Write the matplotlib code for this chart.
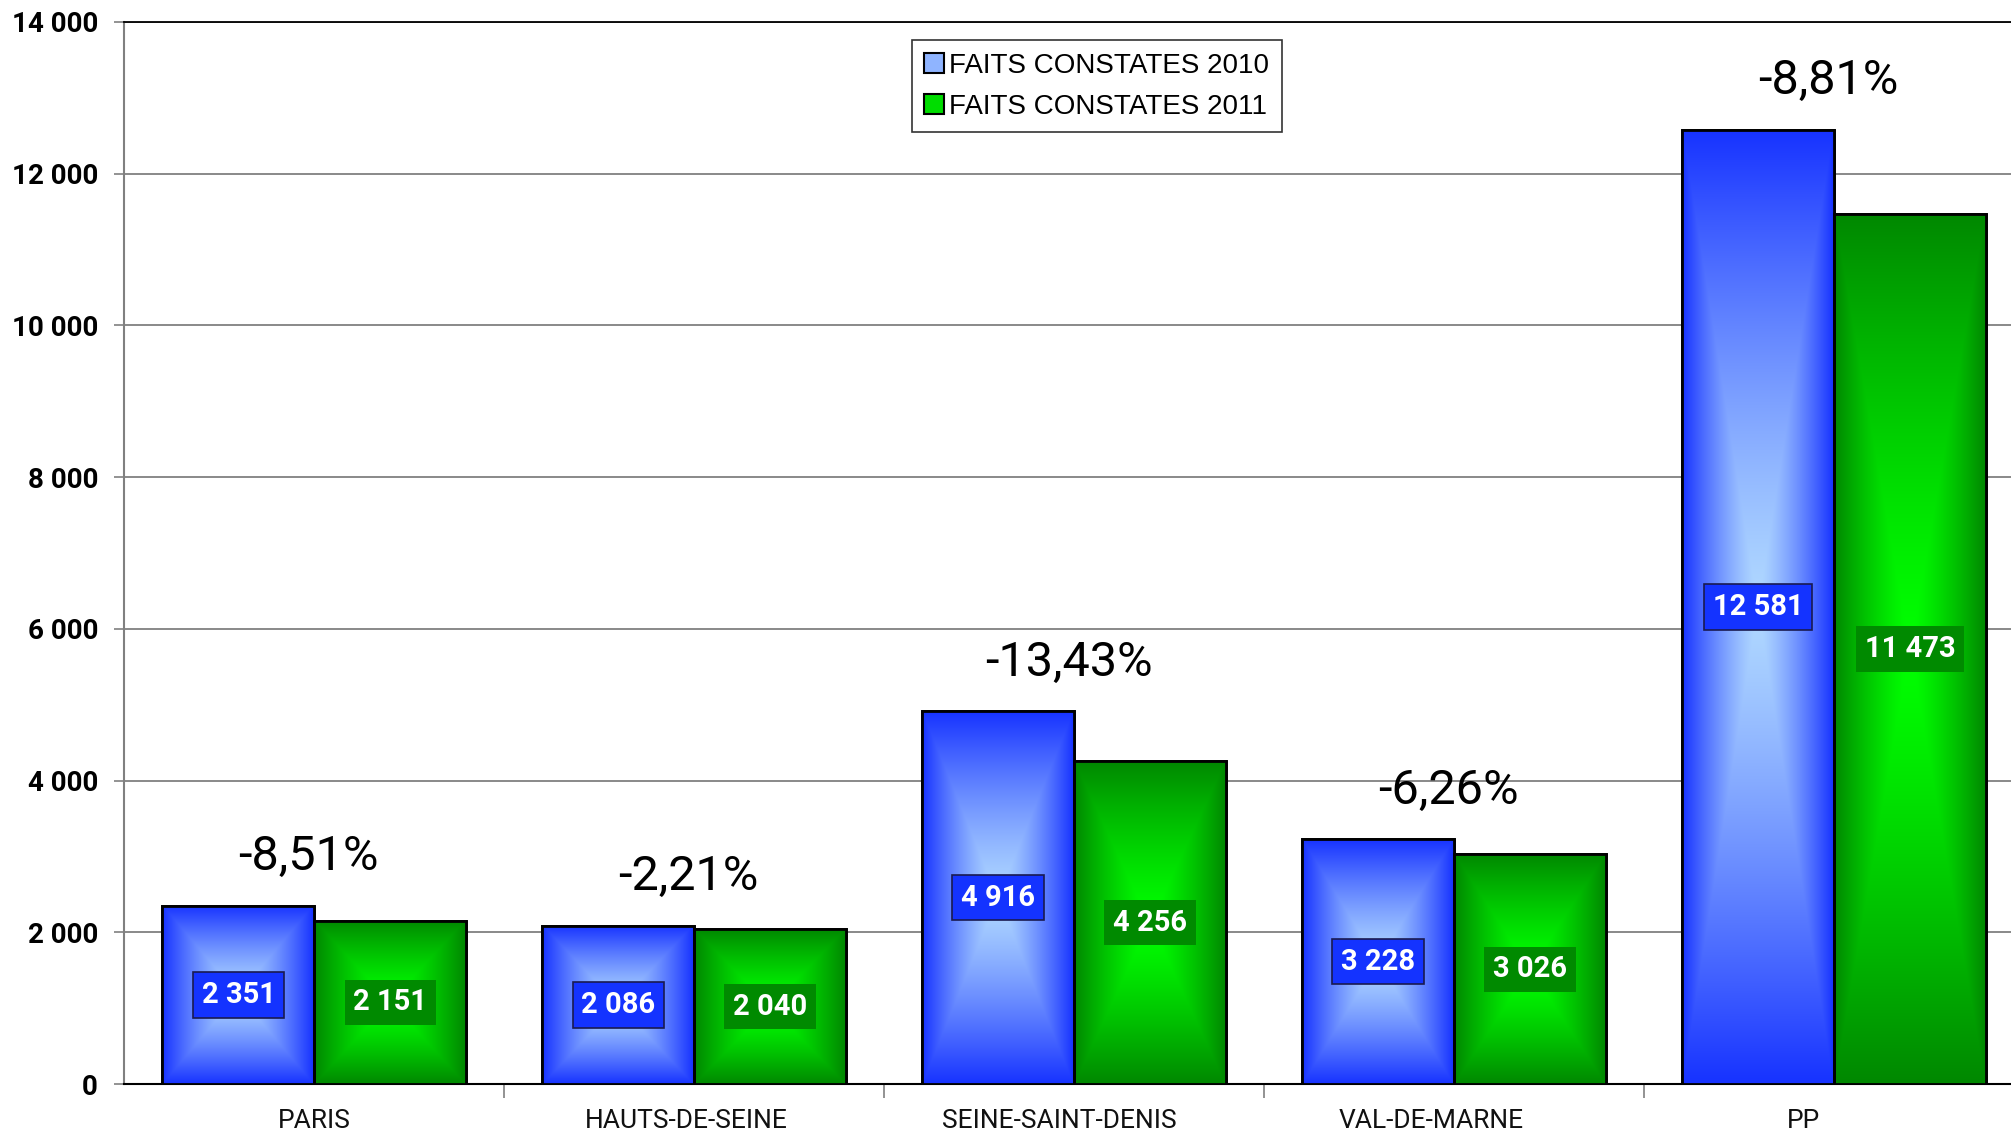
import numpy as np
import matplotlib
matplotlib.use('Agg')
import matplotlib.pyplot as plt
from matplotlib.patches import Patch
from matplotlib.ticker import FuncFormatter, FixedLocator

# data
categories = ['PARIS', 'HAUTS-DE-SEINE', 'SEINE-SAINT-DENIS', 'VAL-DE-MARNE', 'PP']
faits_2010 = [2351, 2086, 4916, 3228, 12581]
faits_2011 = [2151, 2040, 4256, 3026, 11473]
evolution = ['-8,51%', '-2,21%', '-13,43%', '-6,26%', '-8,81%']
series_names = ['FAITS CONSTATES 2010', 'FAITS CONSTATES 2011']


def fmt_fr(v):
    return f"{int(round(v)):,}".replace(',', ' ')


def grad_fill(ax, bar, c_edge, c_center):
    # rectangular "from center" gradient like the office chart
    x0, y0 = bar.get_x(), bar.get_y()
    w, h = bar.get_width(), bar.get_height()
    nx, ny = 120, 240
    u = np.abs(np.linspace(-1, 1, nx))[None, :]
    v = np.abs(np.linspace(-1, 1, ny))[:, None]
    d = np.maximum(u, v)
    d = d ** 1.3
    c_edge = np.array(matplotlib.colors.to_rgb(c_edge))
    c_center = np.array(matplotlib.colors.to_rgb(c_center))
    arr = c_center[None, None, :] + (c_edge - c_center)[None, None, :] * d[:, :, None]
    im = ax.imshow(arr, extent=[x0, x0 + w, y0, y0 + h], origin='lower',
                   aspect='auto', zorder=3, interpolation='bilinear')
    im.set_clip_path(bar)


fig = plt.figure(figsize=(20.11, 11.33), dpi=100)
# the plot area runs slightly past the right edge of the image
ax = fig.add_axes([0.0619, 0.0432, 0.9445, 0.9374])

x = np.arange(len(categories))
w = 0.4
bars1 = ax.bar(x - w / 2, faits_2010, w, color='#1a35ff', edgecolor='black', lw=2, zorder=2)
bars2 = ax.bar(x + w / 2, faits_2011, w, color='#008a00', edgecolor='black', lw=2, zorder=2)

for b in bars1:
    grad_fill(ax, b, '#1733ff', '#b0d8ff')
for b in bars2:
    grad_fill(ax, b, '#008800', '#00ff00')

# outlines on top of the gradients
ax.bar(x - w / 2, faits_2010, w, fill=False, edgecolor='black', lw=2, zorder=4)
ax.bar(x + w / 2, faits_2011, w, fill=False, edgecolor='black', lw=2, zorder=4)

# value labels in boxes
for xi, v in zip(x - w / 2, faits_2010):
    ax.text(xi, v / 2, fmt_fr(v), ha='center', va='center', color='white',
            fontsize=21, fontweight='bold', family='Roboto', zorder=6,
            bbox=dict(boxstyle='square,pad=0.3', fc='#1433ff', ec='#1a1a50', lw=1.2))
for xi, v in zip(x + w / 2, faits_2011):
    ax.text(xi, v / 2, fmt_fr(v), ha='center', va='center', color='white',
            fontsize=21, fontweight='bold', family='Roboto', zorder=6,
            bbox=dict(boxstyle='square,pad=0.3', fc='#008a00', ec='none'))

# evolution percentages above each group
for xi, a, b, s in zip(x, faits_2010, faits_2011, evolution):
    ax.text(xi - 0.015, max(a, b) + 640, s, ha='center', va='center',
            fontsize=35, family='Roboto', color='black', zorder=6)

ax.set_xlim(-0.5, len(categories) - 0.5)
ax.set_ylim(0, 14000)
ax.set_yticks(np.arange(0, 14001, 2000))
ax.yaxis.set_major_formatter(FuncFormatter(lambda v, p: fmt_fr(v)))
ax.yaxis.grid(True, color='#808080', lw=1.3)
ax.set_axisbelow(True)

# category names: the original spreads them a little tighter than the groups
ax.set_xticks([])
ax.xaxis.set_minor_locator(FixedLocator(x[:-1] + 0.5))
ax.tick_params(axis='x', which='minor', length=10, width=1.2, color='#808080', direction='out')
trans = ax.get_xaxis_transform()
for i, name in enumerate(categories):
    ax.text(i - 0.02 * i, -0.0415, name, transform=trans, ha='center', va='baseline',
            fontsize=19, family='Roboto', color='#111111')

ax.tick_params(axis='y', length=7, width=1.2, color='#808080', pad=12)
for lab in ax.get_yticklabels():
    lab.set_fontsize(20)
    lab.set_fontweight('bold')
    lab.set_family('Roboto')

ax.spines['right'].set_visible(False)
ax.spines['top'].set_color('black')
ax.spines['top'].set_linewidth(1.3)
ax.spines['left'].set_color('#808080')
ax.spines['left'].set_linewidth(1.5)
ax.spines['bottom'].set_color('black')
ax.spines['bottom'].set_linewidth(1.5)

handles = [Patch(facecolor='#8fb4ff', edgecolor='black', lw=1.5),
           Patch(facecolor='#00dd00', edgecolor='black', lw=1.5)]
leg = ax.legend(handles, series_names, loc='upper left', bbox_to_anchor=(0.4146, 0.983),
                prop={'family': 'Liberation Sans', 'size': 20}, frameon=True,
                fancybox=False, handlelength=0.7, handleheight=0.7,
                handletextpad=0.2, borderpad=0.45, labelspacing=0.55,
                borderaxespad=0)
leg.get_frame().set_edgecolor('black')
leg.get_frame().set_linewidth(1.2)
leg.set_zorder(7)

fig.savefig('out.png', dpi=100)
